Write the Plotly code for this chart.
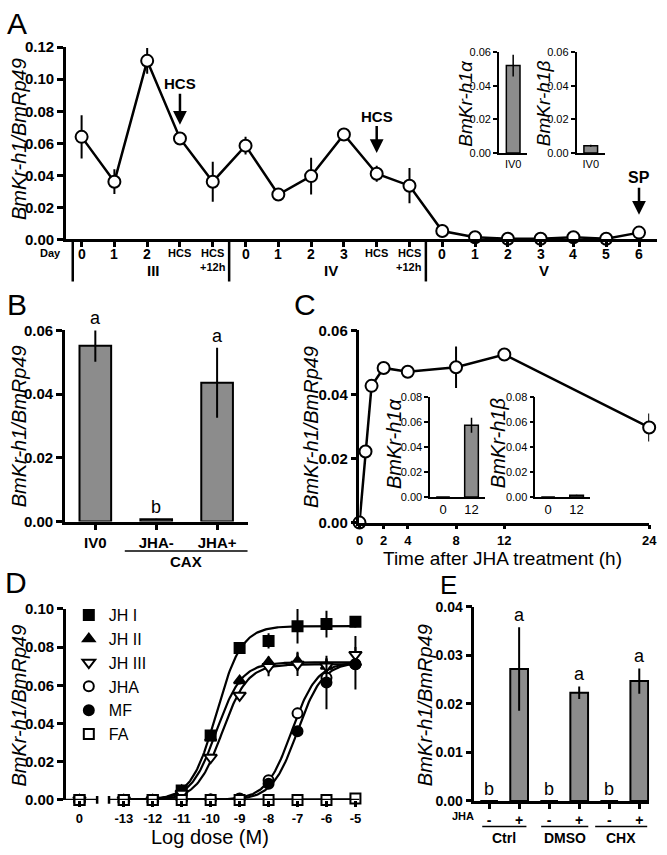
import plotly.graph_objects as go
import numpy as np

W, H = 667, 855
FONT = "Liberation Sans, Arial, sans-serif"
GRAY = "#8c8c8c"

# ---------------- data ----------------
# Panel A : developmental profile
a_labels = ["0", "1", "2", "HCS", "HCS+12h",
            "0", "1", "2", "3", "HCS", "HCS+12h",
            "0", "1", "2", "3", "4", "5", "6"]
a_values = [0.064, 0.036, 0.1115, 0.063, 0.036,
            0.0585, 0.028, 0.0395, 0.0655, 0.041, 0.0335,
            0.0052, 0.0013, 0.0004, 0.0004, 0.0013, 0.0004, 0.0042]
a_errors = [0.0135, 0.0077, 0.008, 0.002, 0.0125,
            0.0055, 0.001, 0.0115, 0.002, 0.005, 0.011,
            0.004, 0.0008, 0.0005, 0.0005, 0.001, 0.0005, 0.002]
a_stages = ["III", "IV", "V"]
a_inset_cat = ["IV0"]
a_alpha_val = [0.052]
a_alpha_err = [0.0065]
a_beta_val = [0.0043]
a_beta_err = [0.0006]

# Panel B : CAX culture
b_cats = ["IV0", "JHA-", "JHA+"]
b_vals = [0.0552, 0.0007, 0.0436]
b_errs = [0.005, 0.0002, 0.011]
b_letters = ["a", "b", "a"]

# Panel C : time course after JHA
c_time = [0, 0.5, 1, 2, 4, 8, 12, 24]
c_vals = [0.0, 0.0222, 0.0427, 0.0483, 0.0471, 0.0485, 0.0525, 0.0297]
c_errs = [0.0, 0.0005, 0.002, 0.001, 0.001, 0.0065, 0.002, 0.0044]
c_time_ticks = [0, 2, 4, 8, 12, 24]
c_inset_cats = ["0", "12"]
c_alpha_val = [0.0, 0.0575]
c_alpha_err = [0.0, 0.006]
c_beta_val = [0.0, 0.0015]
c_beta_err = [0.0, 0.0003]

# Panel D : dose response
d_dose_labels = ["0", "-13", "-12", "-11", "-10", "-9", "-8", "-7", "-6", "-5"]
d_logdose = [None, -13, -12, -11, -10, -9, -8, -7, -6, -5]
d_names = ["JH I", "JH II", "JH III", "JHA", "MF", "FA"]
d_jh1 = [0, 0, 0, 0.005, 0.0337, 0.0795, 0.0832, 0.0909, 0.092, 0.0932]
d_jh2 = [0, 0, 0, 0.005, 0.0325, 0.0624, 0.0721, 0.0726, 0.070, 0.0718]
d_jh3 = [0, 0, 0, 0.0034, 0.0222, 0.0547, 0.0697, 0.0709, 0.070, 0.076]
d_jha = [0, 0, 0, 0, 0.0003, 0.0008, 0.0103, 0.0453, 0.064, 0.071]
d_mf = [0, 0, 0, 0, 0.0002, 0.0005, 0.0085, 0.0359, 0.0615, 0.071]
d_fa = [0, 0, 0, 0, 0, 0, 0, 0, 0, 0.0008]
d_jh1_err = [0, 0, 0, 0.0005, 0.002, 0.002, 0.004, 0.009, 0.007, 0.003]
d_jh2_err = [0, 0, 0, 0.001, 0.001, 0.002, 0.003, 0.005, 0.004, 0.014]
d_jh3_err = [0, 0, 0, 0.001, 0.002, 0.002, 0.005, 0.006, 0.004, 0.004]
d_jha_err = [0, 0, 0, 0, 0, 0, 0.001, 0.003, 0.004, 0.003]
d_mf_err = [0, 0, 0, 0, 0, 0, 0.001, 0.002, 0.014, 0.003]
d_fa_err = [0, 0, 0, 0, 0, 0, 0, 0, 0, 0]
# fitted sigmoid parameters (top, logEC50, hill) per compound
d_fit_top = [0.091, 0.072, 0.071, 0.072, 0.072, 0.0003]
d_fit_ec50 = [-9.8, -9.8, -9.6, -7.2, -7.0, -7.0]
d_fit_hill = [1.0, 1.0, 1.0, 1.0, 1.0, 1.0]

# Panel E : CHX
e_jha = ["-", "+", "-", "+", "-", "+"]
e_groups = ["Ctrl", "DMSO", "CHX"]
e_vals = [0.0, 0.0272, 0.0, 0.0223, 0.0, 0.0247]
e_errs = [0.0, 0.0086, 0.0, 0.0013, 0.0, 0.0026]
e_letters = ["b", "a", "b", "a", "b", "a"]


# ---------------- helpers ----------------
def X(p):
    return p / W


def Y(p):
    return 1 - p / H


def ax(**kw):
    d = dict(showline=True, linecolor="black", linewidth=2.5, ticks="outside",
             ticklen=6, tickwidth=2.5, tickcolor="black", showgrid=False,
             zeroline=False, fixedrange=True,
             tickfont=dict(size=15, family=FONT, color="black", weight="bold"))
    d.update(kw)
    return d


def small_ax(**kw):
    d = dict(showline=True, linecolor="black", linewidth=1.5, ticks="outside",
             ticklen=4, tickwidth=1.5, tickcolor="black", showgrid=False,
             zeroline=False, fixedrange=True,
             tickfont=dict(size=11, family=FONT, color="black"))
    d.update(kw)
    return d


anns = []
shapes = []


def text(t, x, y, size=14, bold=False, italic=False, angle=0,
         xref="paper", yref="paper", xanchor="center", yanchor="middle", **kw):
    if bold:
        t = "<b>" + t + "</b>"
    if italic:
        t = "<i>" + t + "</i>"
    d = dict(text=t, x=x, y=y, xref=xref, yref=yref, showarrow=False,
             textangle=angle, xanchor=xanchor, yanchor=yanchor,
             font=dict(size=size, family=FONT, color="black"))
    d.update(kw)
    anns.append(d)


def line(x0, y0, x1, y1, width=2.5, xref="paper", yref="paper"):
    shapes.append(dict(type="line", x0=x0, y0=y0, x1=x1, y1=y1, xref=xref,
                       yref=yref, line=dict(color="black", width=width)))


err_style = dict(type="data", color="black", thickness=2, width=0)
fig = go.Figure()

# ---------------- Panel A ----------------
a_x = list(range(len(a_values)))
fig.add_trace(go.Scatter(
    x=a_x, y=a_values, xaxis="x", yaxis="y", mode="lines+markers",
    line=dict(color="black", width=2.5),
    marker=dict(symbol="circle", size=12, color="white",
                line=dict(color="black", width=2)),
    error_y=dict(array=a_errors, **err_style), cliponaxis=False, showlegend=False))

fig.add_trace(go.Bar(
    x=a_inset_cat, y=a_alpha_val, xaxis="x2", yaxis="y2", width=0.48,
    marker=dict(color=GRAY, line=dict(color="black", width=1.5)),
    error_y=dict(array=a_alpha_err, type="data", color="black", thickness=1.5, width=0),
    showlegend=False))
fig.add_trace(go.Bar(
    x=a_inset_cat, y=a_beta_val, xaxis="x3", yaxis="y3", width=0.48,
    marker=dict(color=GRAY, line=dict(color="black", width=1.5)),
    error_y=dict(array=a_beta_err, type="data", color="black", thickness=1.5, width=0),
    showlegend=False))

# x tick labels of panel A (two sizes, multi-line)
for i, s in enumerate(a_labels):
    if s.startswith("HCS"):
        text("HCS", i, Y(249), size=11, bold=True, xref="x")
        if s != "HCS":
            text(s[3:], i, Y(263), size=11, bold=True, xref="x")
    else:
        text(s, i, Y(250), size=14, bold=True, xref="x")

# ---------------- Panel B ----------------
fig.add_trace(go.Bar(
    x=b_cats, y=b_vals, xaxis="x4", yaxis="y4", width=0.52,
    marker=dict(color=GRAY, line=dict(color="black", width=2)),
    error_y=dict(array=b_errs, **err_style), showlegend=False))
for c, v, e, l in zip(b_cats, b_vals, b_errs, b_letters):
    text(l, c, (v + e) / 0.06, size=18, xref="x4", yref="y4 domain", yanchor="bottom")

# ---------------- Panel C ----------------
fig.add_trace(go.Scatter(
    x=c_time, y=c_vals, xaxis="x5", yaxis="y5", mode="lines+markers",
    line=dict(color="black", width=2.5),
    marker=dict(symbol="circle", size=12, color="white",
                line=dict(color="black", width=2)),
    error_y=dict(array=c_errs, **err_style), cliponaxis=False, showlegend=False))
fig.add_trace(go.Bar(
    x=[0, 1], y=c_alpha_val, xaxis="x6", yaxis="y6", width=0.48,
    marker=dict(color=GRAY, line=dict(color="black", width=1.5)),
    error_y=dict(array=c_alpha_err, type="data", color="black", thickness=1.5, width=0),
    showlegend=False))
fig.add_trace(go.Bar(
    x=[0, 1], y=c_beta_val, xaxis="x7", yaxis="y7", width=0.48,
    marker=dict(color=GRAY, line=dict(color="black", width=1.5)),
    error_y=dict(array=c_beta_err, type="data", color="black", thickness=1.5, width=0),
    showlegend=False))

# ---------------- Panel D ----------------
ZERO_POS = -14.53
d_x = [ZERO_POS if v is None else v for v in d_logdose]
d_series = [d_jh1, d_jh2, d_jh3, d_jha, d_mf, d_fa]
d_err = [d_jh1_err, d_jh2_err, d_jh3_err, d_jha_err, d_mf_err, d_fa_err]
d_sym = ["square", "triangle-up", "triangle-down-open", "circle-open", "circle", "square-open"]
d_size = [10, 10, 11, 10, 10, 10]
xs = np.linspace(-13, -5, 200)
for top, ec, hl in zip(d_fit_top, d_fit_ec50, d_fit_hill):
    ys = top / (1 + 10 ** ((ec - xs) * hl))
    fig.add_trace(go.Scatter(x=xs, y=ys, xaxis="x8", yaxis="y8", mode="lines",
                             line=dict(color="black", width=2.2),
                             cliponaxis=False, showlegend=False, hoverinfo="skip"))
for name, vals, errs, sym, sz in zip(d_names, d_series, d_err, d_sym, d_size):
    open_ = sym.endswith("open")
    fig.add_trace(go.Scatter(
        x=d_x, y=vals, xaxis="x8", yaxis="y8", mode="markers", name=name,
        marker=dict(symbol=sym.replace("-open", ""), size=sz,
                    color="white" if open_ else "black",
                    line=dict(color="black", width=2)),
        error_y=dict(array=errs, **err_style), cliponaxis=False))

# ---------------- Panel E ----------------
e_x = list(range(len(e_vals)))
fig.add_trace(go.Bar(
    x=e_x, y=e_vals, xaxis="x9", yaxis="y9", width=0.59,
    marker=dict(color=GRAY, line=dict(color="black", width=2)),
    error_y=dict(array=e_errs, **err_style), showlegend=False))
for i, (v, e, l) in enumerate(zip(e_vals, e_errs, e_letters)):
    text(l, i, v + e, size=18, xref="x9", yref="y9", yanchor="bottom")

# ---------------- axes ----------------
layout_axes = dict(
    # A
    xaxis=ax(domain=[X(63), X(665)], range=[-0.48, 17.55], anchor="y",
             tickvals=a_x, showticklabels=False, ticklen=5),
    yaxis=ax(domain=[Y(235), Y(39)], range=[0, 0.12], dtick=0.02,
             tickformat=".2f", anchor="x"),
    xaxis2=small_ax(domain=[X(504), X(533)], range=[-0.5, 0.5], anchor="y2",
                    type="category", ticks=""),
    yaxis2=small_ax(domain=[Y(147), Y(44)], range=[0, 0.06], dtick=0.02,
                    tickformat=".2f", anchor="x2"),
    xaxis3=small_ax(domain=[X(583), X(612)], range=[-0.5, 0.5], anchor="y3",
                    type="category", ticks=""),
    yaxis3=small_ax(domain=[Y(147), Y(44)], range=[0, 0.06], dtick=0.02,
                    tickformat=".2f", anchor="x3"),
    # B
    xaxis4=ax(domain=[X(62), X(248)], range=[-0.5, 2.5], anchor="y4",
              type="category"),
    yaxis4=ax(domain=[Y(523), Y(328)], range=[0, 0.06], dtick=0.02,
              tickformat=".2f", anchor="x4"),
    # C
    xaxis5=ax(domain=[X(362), X(657)], range=[0, 24], anchor="y5",
              tickvals=c_time_ticks, ticklen=4,
              tickfont=dict(size=13, family=FONT, color="black", weight="bold")),
    yaxis5=ax(domain=[Y(524), Y(328)], range=[0, 0.06], dtick=0.02,
              tickformat=".2f", anchor="x5"),
    xaxis6=small_ax(domain=[X(434), X(490)], range=[-0.45, 1.48], anchor="y6",
                    tickvals=[0, 1], ticktext=c_inset_cats, ticks="",
                    tickfont=dict(size=13, family=FONT, color="black")),
    yaxis6=small_ax(domain=[Y(498), Y(396)], range=[0, 0.08], dtick=0.02,
                    tickformat=".2f", anchor="x6"),
    xaxis7=small_ax(domain=[X(541), X(597)], range=[-0.45, 1.48], anchor="y7",
                    tickvals=[0, 1], ticktext=c_inset_cats, ticks="",
                    tickfont=dict(size=13, family=FONT, color="black")),
    yaxis7=small_ax(domain=[Y(498), Y(396)], range=[0, 0.08], dtick=0.02,
                    tickformat=".2f", anchor="x7"),
    # D
    xaxis8=ax(domain=[X(63), X(362)], range=[-15.0, -4.86], anchor="y8",
              showline=False, tickvals=d_x, ticktext=d_dose_labels,
              tickfont=dict(size=13, family=FONT, color="black", weight="bold")),
    yaxis8=ax(domain=[Y(807), Y(612)], range=[0, 0.1], dtick=0.02,
              tickformat=".2f", anchor="x8"),
    # E
    xaxis9=ax(domain=[X(479), X(657)], range=[-0.49, 5.33], anchor="y9",
              tickvals=e_x, ticktext=e_jha, ticklen=5,
              tickfont=dict(size=14, family=FONT, color="black", weight="bold")),
    yaxis9=ax(domain=[Y(808), Y(610)], range=[0, 0.04], dtick=0.01,
              tickformat=".2f", anchor="x9",
              tickfont=dict(size=14, family=FONT, color="black", weight="bold")),
)

# ---------------- annotations / decorations ----------------
# panel letters
for l, px, py, fs in [("A", 13, 15, 30), ("B", 13, 302, 30), ("C", 307, 302, 30),
                      ("D", 12, 585, 30), ("E", 453, 588, 26)]:
    text(l, X(px), Y(py), size=fs)

# y-axis titles
YT = "BmKr-h1/BmRp49"
for px, py in [(16, 133), (15, 426), (312, 426), (15, 711), (429, 710)]:
    text(YT, X(px), Y(py), size=20, italic=True, angle=-90)
text("BmKr-h1α", X(470), Y(96), size=19, italic=True, angle=-90)
text("BmKr-h1β", X(549), Y(96), size=19, italic=True, angle=-90)
text("BmKr-h1α", X(397), Y(443), size=20, italic=True, angle=-90)
text("BmKr-h1β", X(503), Y(443), size=20, italic=True, angle=-90)

# x-axis titles
text("Time after JHA treatment (h)", X(508), Y(561), size=19)
text("Log dose (M)", X(210), Y(845), size=20)

# Panel A stage annotations
text("Day", X(47), Y(249), size=11, bold=True)
for s, px in zip(a_stages, [152, 333, 550]):
    text(s, X(px), Y(267), size=15, bold=True)
for pos in [-0.27, 4.5, 10.5]:
    line(pos, Y(235), pos, Y(278), xref="x")


def arrow(lbl, xi, tip_px, text_px, size):
    anns.append(dict(x=xi, y=(235 - tip_px) / 196 * 0.12, xref="x", yref="y",
                     text="<b>" + lbl + "</b>", showarrow=True, ax=0,
                     ay=text_px - tip_px, arrowhead=2, arrowsize=1.1,
                     arrowwidth=2.5, arrowcolor="black",
                     font=dict(size=size, family=FONT, color="black")))


arrow("HCS", 3, 118, 77, 15)
arrow("HCS", 9, 147, 110, 15)
arrow("SP", 17, 210, 173, 16)

# Panel B grouping
line(X(123), Y(553), X(248), Y(553), width=1.5)
text("CAX", X(185), Y(564), size=15, bold=True)

# Panel D broken axis
line(-15.0, 0, -13.92, 0, xref="x8", yref="y8")
line(-13.51, 0, -4.86, 0, xref="x8", yref="y8")
line(-13.92, Y(803), -13.92, Y(811), xref="x8")
line(-13.51, Y(803), -13.51, Y(811), xref="x8")

# Panel E grouping
text("JHA", X(467), Y(823), size=11, bold=True)
for g, x0, x1 in zip(e_groups, [487, 547, 602], [532, 595, 655]):
    line(X(x0), Y(834), X(x1), Y(834), width=1.5)
    text(g, X((x0 + x1) / 2), Y(846), size=14, bold=True)

fig.update_layout(
    width=W, height=H, margin=dict(l=0, r=0, t=0, b=0),
    paper_bgcolor="white", plot_bgcolor="rgba(0,0,0,0)",
    font=dict(family=FONT, color="black"),
    annotations=anns, shapes=shapes,
    legend=dict(x=X(66), y=Y(601), xanchor="left", yanchor="top",
                font=dict(size=16, family=FONT, color="black"),
                bgcolor="rgba(0,0,0,0)", tracegroupgap=0, itemwidth=30),
    **layout_axes)

fig.write_html("out.html", config={"displayModeBar": False},
               post_script="document.body.style.margin='0px';")
